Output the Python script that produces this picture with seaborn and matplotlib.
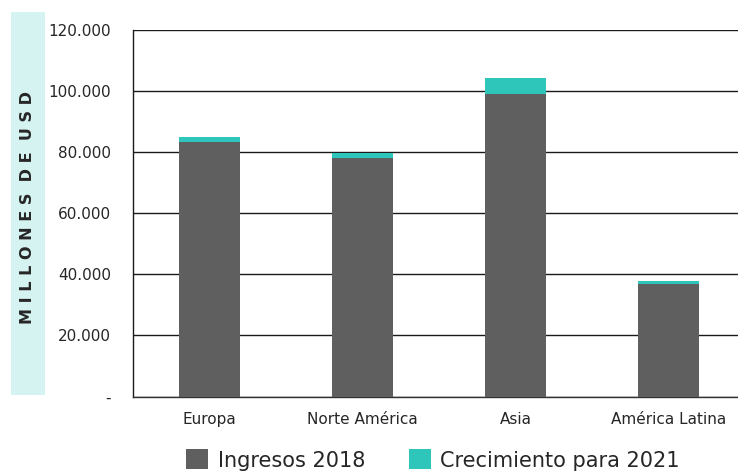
import matplotlib
matplotlib.use("Agg")
import matplotlib.pyplot as plt
from matplotlib.patches import Rectangle, Patch
from matplotlib.ticker import FuncFormatter
import pandas as pd
import seaborn as sns

# Revenue by region (millions of USD)
regions = ["Europa", "Norte América", "Asia", "América Latina"]
ingresos_2018 = [83400, 78100, 99100, 36700]
crecimiento_2021 = [1400, 1550, 5000, 1000]
y_ticks = [0, 20000, 40000, 60000, 80000, 100000, 120000]

GRAY = "#5F5F5F"
TEAL = "#2EC6BA"
BOX = "#D5F3F0"
INK = "#262626"

sns.set_theme(style="white")
plt.rcParams["font.family"] = ["DejaVu Sans"]

df = pd.DataFrame({
    "region": regions,
    "base": ingresos_2018,
    "total": [a + b for a, b in zip(ingresos_2018, crecimiento_2021)],
})

fig = plt.figure(figsize=(7.38, 4.73), dpi=100)
ax = fig.add_axes([133 / 738, 76.5 / 473, 612 / 738, 366.8 / 473])

# stacked bars: total (growth on top) first, then 2018 revenue over it
sns.barplot(data=df, x="region", y="total", order=regions, color=TEAL,
            width=0.405, saturation=1, ax=ax, edgecolor="none", zorder=2)
sns.barplot(data=df, x="region", y="base", order=regions, color=GRAY,
            width=0.405, saturation=1, ax=ax, edgecolor="none", zorder=3)

ax.set_ylim(0, 120000)
ax.set_yticks(y_ticks)
ax.yaxis.set_major_formatter(FuncFormatter(
    lambda v, p: "-" if v == 0 else f"{int(v):,}".replace(",", ".")))
ax.grid(axis="y", color="#1a1a1a", linewidth=1.0, zorder=0)
ax.grid(axis="x", visible=False)
ax.set_axisbelow(True)
for side in ["top", "right"]:
    ax.spines[side].set_visible(False)
ax.spines["left"].set_color("#1a1a1a")
ax.spines["bottom"].set_color("#333333")
ax.spines["left"].set_linewidth(1.0)
ax.spines["bottom"].set_linewidth(1.0)
ax.tick_params(axis="y", length=0, pad=16, labelsize=11, labelcolor=INK)
ax.tick_params(axis="x", length=0, pad=11, labelsize=11, labelcolor=INK)
ax.set_xlabel("")
ax.set_ylabel("")

# y-axis title in a shaded band
fig.patches.append(Rectangle((11 / 738, 78 / 473), 34 / 738, 383 / 473,
                             transform=fig.transFigure, facecolor=BOX,
                             edgecolor="none", zorder=0))
fig.text(28 / 738, 1 - 207 / 473, "M I L L O N E S  D E  U S D",
         rotation=90, ha="center", va="center", fontsize=11.5,
         fontweight="bold", color=INK)

handles = [Patch(facecolor=GRAY, edgecolor="none", label="Ingresos 2018"),
           Patch(facecolor=TEAL, edgecolor="none", label="Crecimiento para 2021")]
fig.legend(handles=handles, loc="center", bbox_to_anchor=(433 / 738, 13 / 473),
           ncol=2, frameon=False, fontsize=15, handlelength=1.05,
           handleheight=1.1, handletextpad=0.45, columnspacing=2.1,
           labelcolor=INK, borderaxespad=0, borderpad=0)

fig.savefig("out.png", dpi=100)
